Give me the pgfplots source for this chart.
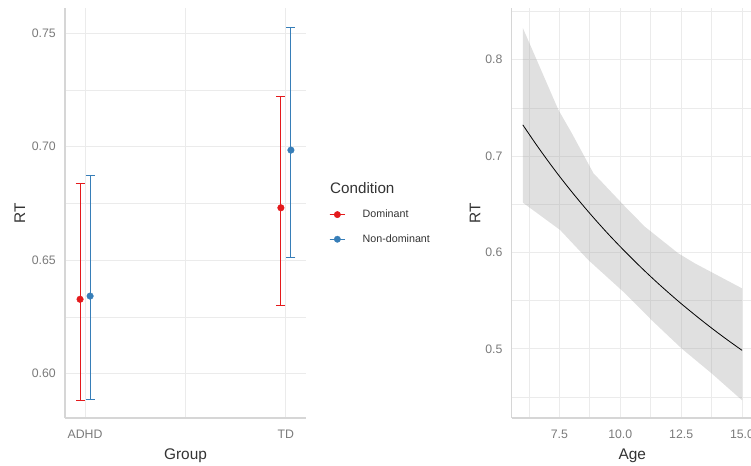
\documentclass[border=0pt]{standalone}
\usepackage{fontspec}
\setmainfont{Liberation Sans}
\usepackage{pgfplots}
\pgfplotsset{compat=1.18}
\definecolor{gridc}{HTML}{EBEBEB}
\definecolor{axisc}{HTML}{D6D6D6}
\definecolor{tickc}{HTML}{7A7A7A}
\definecolor{titc}{HTML}{333333}
\definecolor{redc}{HTML}{E41A1C}
\definecolor{bluec}{HTML}{377EB8}
\definecolor{bandc}{HTML}{999999}
\pgfplotsset{gg/.style={
  scale only axis, height=410bp,
  axis lines*=left, axis line style={-, draw=axisc, line width=1.1bp},
  major tick length=0pt, minor tick length=0pt,
  grid=both,
  major grid style={draw=gridc, line width=0.9bp},
  minor grid style={draw=gridc, line width=0.6bp},
  tick label style={font=\fontsize{12.3bp}{14bp}\selectfont, text=tickc, inner sep=0pt},
  xticklabel style={anchor=base, yshift=-20.3bp},
  yticklabel style={anchor=east, xshift=-9bp},
  label style={font=\fontsize{15.4bp}{17bp}\selectfont, text=titc, inner sep=0pt},
  xlabel style={at={(axis description cs:0.5,-0.1)}, anchor=base},
}}
\begin{document}
\begin{tikzpicture}
\useasboundingbox (0,0) rectangle (751bp,466bp);
% ---------- left panel
\begin{axis}[gg, at={(65bp,48bp)}, anchor=south west, width=241bp,
  xmin=0.9, xmax=2.1, ymin=0.5805, ymax=0.7611,
  xtick={1,2}, xticklabels={ADHD,TD}, minor xtick={1.5},
  ytick={0.60,0.65,0.70,0.75}, yticklabels={0.60,0.65,0.70,0.75},
  minor ytick={0.625,0.675,0.725},
  xlabel={Group}, ylabel={RT},
  ylabel style={at={(axis description cs:-0.187,0.5)}, anchor=center},
  clip=false,
  legend image code/.code={\draw[#1, line width=1bp] (0bp,0bp) -- (15.7bp,0bp); \fill[#1] (7.85bp,0bp) circle (3.2bp);},
  legend style={draw=none, fill=none, inner sep=0pt, outer sep=0pt,
    at={(axis description cs:1.0955,0.5122)}, anchor=north west,
    font=\fontsize{10.7bp}{12bp}\selectfont, text=titc,
    cells={anchor=west}, row sep=11.4bp,
    /tikz/every odd column/.append style={column sep=15bp}},
]
\addplot[forget plot, only marks, mark=*, mark size=3.3bp, color=redc,
  error bars/.cd, y dir=both, y explicit, error mark=|,
  error bar style={line width=1bp, color=redc},
  error mark options={line width=1bp, mark size=4.5bp, color=redc}]
  table[x=x, y=y, y error plus=ep, y error minus=em] {
  x y ep em
  0.975 0.6328 0.0509 0.0445
  1.975 0.6731 0.0491 0.0431
};
\addplot[forget plot, only marks, mark=*, mark size=3.3bp, color=bluec,
  error bars/.cd, y dir=both, y explicit, error mark=|,
  error bar style={line width=1bp, color=bluec},
  error mark options={line width=1bp, mark size=4.5bp, color=bluec}]
  table[x=x, y=y, y error plus=ep, y error minus=em] {
  x y ep em
  1.025 0.6342 0.0530 0.0455
  2.025 0.6985 0.0539 0.0474
};
\addlegendimage{draw=redc, fill=redc}
\addlegendentry{Dominant}
\addlegendimage{draw=bluec, fill=bluec}
\addlegendentry{Non-dominant}
\end{axis}
\node[anchor=base west, inner sep=0pt, font=\fontsize{15.2bp}{17bp}\selectfont, text=titc] at (330bp,272bp) {Condition};
% ---------- right panel
\begin{axis}[gg, at={(511.7bp,48bp)}, anchor=south west, width=241.3bp,
  xmin=5.545, xmax=15.45, ymin=0.4283, ymax=0.8537,
  xtick={7.5,10,12.5,15}, xticklabels={7.5,10.0,12.5,15.0},
  minor xtick={6.25,8.75,11.25,13.75},
  ytick={0.5,0.6,0.7,0.8}, yticklabels={0.5,0.6,0.7,0.8},
  minor ytick={0.45,0.55,0.65,0.75,0.85},
  xlabel={Age}, ylabel={RT},
  ylabel style={at={(axis description cs:-0.152,0.5)}, anchor=center},
]
\addplot[draw=none, fill=bandc, fill opacity=0.3] coordinates {
  (6,0.8331) (7.46,0.7481) (8.01,0.7239) (8.9,0.6823) (10.2,0.6476)
  (11.01,0.6268) (12.38,0.5992) (13.06,0.5888) (15,0.5628)
  (15,0.4467) (13.76,0.4744) (12.52,0.5004) (11.29,0.5298) (10.2,0.5576)
  (8.69,0.5922) (7.53,0.6234) (6,0.6518)
} -- cycle;
\addplot[black, line width=0.8bp, smooth, no marks] coordinates {
  (6,0.7325) (6.5,0.7139) (7,0.6962) (7.5,0.6793) (8,0.6633) (8.5,0.6480)
  (9,0.6334) (9.5,0.6194) (10,0.6061) (10.5,0.5933) (11,0.5810) (11.5,0.5692)
  (12,0.5579) (12.5,0.5470) (13,0.5366) (13.5,0.5265) (14,0.5168) (14.5,0.5075)
  (15,0.4985)
};
\end{axis}
\end{tikzpicture}
\end{document}
